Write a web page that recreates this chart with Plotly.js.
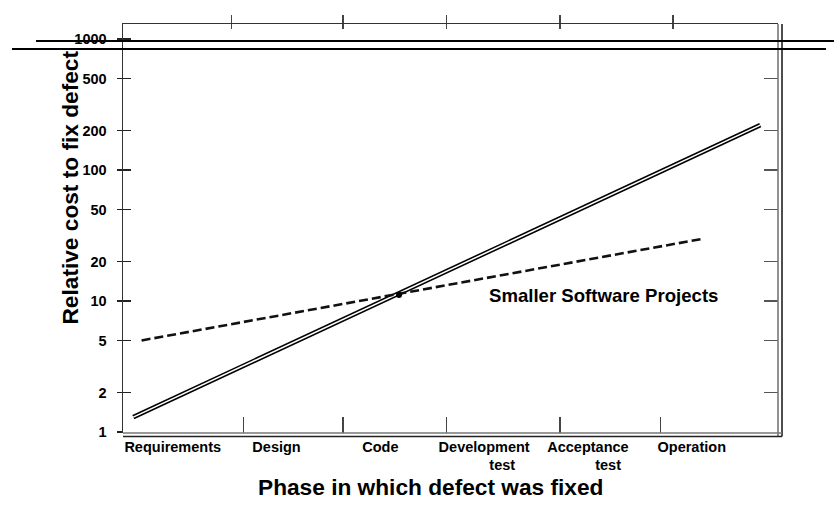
<!DOCTYPE html>
<html>
<head>
<meta charset="utf-8">
<script src="https://cdn.plot.ly/plotly-3.0.1.min.js"></script>
<style>html,body{margin:0;padding:0;background:#fff;}#chart{width:834px;height:505px;}</style>
</head>
<body>
<div id="chart"></div>
<script>
// ---- data ----
const phases = ['Requirements', 'Design', 'Code',
  'Development<br>\u00a0\u00a0\u00a0\u00a0\u00a0\u00a0\u00a0\u00a0\u00a0test',
  'Acceptance<br>\u00a0\u00a0\u00a0\u00a0\u00a0\u00a0\u00a0\u00a0\u00a0\u00a0test',
  'Operation'];
const phaseIndex = [0, 1, 2, 3, 4, 5];
const yTickVals = [1, 2, 5, 10, 20, 50, 100, 200, 500, 1000];
const yTickText = ['1', '2', '5', '10', '20', '50', '100', '200', '500', '1000'];
const rightTickVals = [2, 5, 10, 20, 50, 100, 200, 500];
const bottomTickPos = [0.68, 1.64, 2.64, 3.73, 4.70];
const topTickPos = [0.57, 1.64, 2.64, 3.73, 4.82];
// larger projects (solid double line): phase position -> relative cost
const largeX = [-0.38, 5.66];
const largeY = [1.3, 220];
// smaller software projects (dashed line)
const smallX = [-0.30, 5.12];
const smallY = [5, 30];
// crossing point marker
const crossX = [2.18];
const crossY = [11.1];

const F = '"Liberation Sans", Arial, Helvetica, sans-serif';
const XR = [-0.479, 5.831];
const YR = [-0.0076, 3.1145];

const empty = (xa, ya) => ({x: [], y: [], xaxis: xa, yaxis: ya, mode: 'lines', hoverinfo: 'skip', showlegend: false});

const traces = [
  {x: largeX, y: largeY, mode: 'lines', line: {color: '#000', width: 4.6}, hoverinfo: 'skip'},
  {x: largeX, y: largeY, mode: 'lines', line: {color: '#fff', width: 1.5}, hoverinfo: 'skip'},
  {x: smallX, y: smallY, mode: 'lines', line: {color: '#111', width: 2.6, dash: '9px,4px'}, hoverinfo: 'skip'},
  {x: crossX, y: crossY, mode: 'markers', marker: {color: '#000', size: 6}, hoverinfo: 'skip'},
  empty('x2', 'y'), empty('x3', 'y'), empty('x4', 'y'), empty('x', 'y2'), empty('x', 'y3')
];

const baseY = {type: 'log', range: YR, autorange: false, showgrid: false, zeroline: false, fixedrange: true};
const baseX = {range: XR, autorange: false, showgrid: false, zeroline: false, fixedrange: true};

const layout = {
  width: 834, height: 505,
  margin: {l: 123, r: 56, t: 24, b: 72, pad: 0},
  paper_bgcolor: '#fff', plot_bgcolor: '#fff',
  showlegend: false,
  font: {family: F, color: '#000'},
  xaxis: Object.assign({}, baseX, {
    tickmode: 'array', tickvals: phaseIndex, ticktext: phases,
    ticks: '', tickfont: {family: F, size: 14.5, weight: 'bold', color: '#000'},
    showline: false, ticklabelstandoff: 3
  }),
  xaxis2: Object.assign({}, baseX, {
    overlaying: 'x', anchor: 'y', side: 'bottom',
    tickmode: 'array', tickvals: bottomTickPos, showticklabels: false,
    ticks: 'inside', ticklen: 16, tickwidth: 1.2, tickcolor: '#444', showline: false
  }),
  xaxis3: Object.assign({}, baseX, {
    overlaying: 'x', anchor: 'y', side: 'top',
    tickmode: 'array', tickvals: topTickPos, showticklabels: false,
    ticks: 'outside', ticklen: 8, tickwidth: 1.2, tickcolor: '#444',
    showline: true, linecolor: '#333', linewidth: 1.5
  }),
  xaxis4: Object.assign({}, baseX, {
    overlaying: 'x', anchor: 'y', side: 'top',
    tickmode: 'array', tickvals: topTickPos, showticklabels: false,
    ticks: 'inside', ticklen: 5, tickwidth: 1.2, tickcolor: '#444', showline: false
  }),
  yaxis: Object.assign({}, baseY, {
    tickmode: 'array', tickvals: yTickVals, ticktext: yTickText,
    ticks: 'inside', ticklen: 8, tickwidth: 1.5, tickcolor: '#222',
    tickfont: {family: F, size: 14.5, weight: 'bold', color: '#000'},
    showline: true, linecolor: '#333', linewidth: 1.5, ticklabelstandoff: 12
  }),
  yaxis2: Object.assign({}, baseY, {
    overlaying: 'y', anchor: 'x', side: 'right',
    tickmode: 'array', tickvals: rightTickVals, showticklabels: false,
    ticks: 'inside', ticklen: 14, tickwidth: 1.5, tickcolor: '#555', showline: false
  }),
  yaxis3: Object.assign({}, baseY, {
    overlaying: 'y', anchor: 'x', side: 'left',
    tickmode: 'array', tickvals: yTickVals, showticklabels: false,
    ticks: 'outside', ticklen: 5, tickwidth: 1.5, tickcolor: '#222', showline: false
  }),
  shapes: [
    // right double border
    {type: 'line', xref: 'paper', yref: 'paper', x0: 1, x1: 1, y0: -0.0085, y1: 1, line: {color: '#777', width: 1.6}},
    {type: 'line', xref: 'paper', yref: 'paper', x0: 1.0061, x1: 1.0061, y0: -0.0085, y1: 1, line: {color: '#222', width: 1.6}},
    // bottom double border
    {type: 'line', xref: 'paper', yref: 'paper', x0: 0, x1: 1.0061, y0: 0, y1: 0, line: {color: '#777', width: 1.6}},
    {type: 'line', xref: 'paper', yref: 'paper', x0: 0, x1: 1.0061, y0: -0.0085, y1: -0.0085, line: {color: '#222', width: 1.6}},
    // double horizontal rule across the top
    {type: 'line', xref: 'paper', yref: 'paper', x0: -0.1328, x1: 1.09, y0: 0.9584, y1: 0.9584, line: {color: '#000', width: 2}},
    {type: 'line', xref: 'paper', yref: 'paper', x0: -0.1695, x1: 1.0733, y0: 0.9389, y1: 0.9389, line: {color: '#000', width: 2}}
  ],
  annotations: [
    {text: 'Smaller Software Projects', xref: 'paper', yref: 'paper', x: 0.733, y: 0.335,
     showarrow: false, xanchor: 'center', yanchor: 'middle',
     font: {family: F, size: 18.6, weight: 'bold', color: '#000'}},
    {text: 'Phase in which defect was fixed', xref: 'paper', yref: 'paper', x: 0.470, y: -0.131,
     showarrow: false, xanchor: 'center', yanchor: 'middle',
     font: {family: F, size: 22.7, weight: 'bold', color: '#000'}},
    {text: 'Relative cost to fix defect', xref: 'paper', yref: 'paper', x: -0.081, y: 0.600,
     showarrow: false, xanchor: 'center', yanchor: 'middle', textangle: -90,
     font: {family: F, size: 22.7, weight: 'bold', color: '#000'}}
  ]
};

Plotly.newPlot('chart', traces, layout, {displayModeBar: false, staticPlot: true});
</script>
</body>
</html>
